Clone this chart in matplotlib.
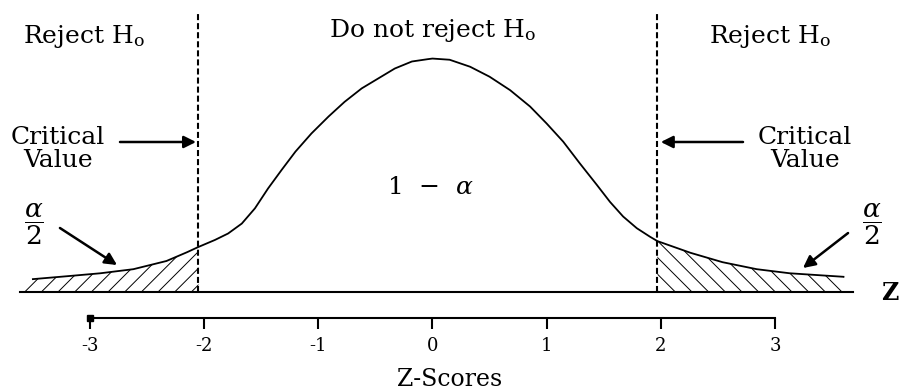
import numpy as np
import matplotlib.pyplot as plt

plt.rcParams['font.family'] = ['DejaVu Serif']
plt.rcParams['mathtext.fontset'] = 'dejavuserif'
plt.rcParams['hatch.linewidth'] = 0.7

# hand-drawn bell curve (z-score, height)
curve_z = [-3.50, -3.20, -2.91, -2.62, -2.33, -2.15, -2.05, -1.905, -1.79, -1.67,
           -1.555, -1.44, -1.32, -1.20, -1.06, -0.91, -0.77, -0.62, -0.475, -0.33,
           -0.18, -0.04, 0.00, 0.15, 0.33, 0.50, 0.68, 0.855, 1.00, 1.145, 1.29,
           1.44, 1.555, 1.67, 1.79, 1.905, 1.97, 2.26, 2.54, 2.84, 3.13, 3.60]
curve_h = [0.022, 0.027, 0.032, 0.039, 0.053, 0.068, 0.077, 0.089, 0.100, 0.117,
           0.143, 0.177, 0.209, 0.240, 0.271, 0.300, 0.325, 0.348, 0.365, 0.382,
           0.394, 0.398, 0.399, 0.397, 0.385, 0.368, 0.345, 0.317, 0.288, 0.257, 0.220,
           0.183, 0.154, 0.129, 0.109, 0.0945, 0.087, 0.067, 0.051, 0.039, 0.032, 0.026]

crit_left, crit_right = -2.05, 1.97
base_left, base_right = -3.61, 3.68
z_ticks = [-3, -2, -1, 0, 1, 2, 3]

curve_z = np.array(curve_z)
curve_h = np.array(curve_h)

fig = plt.figure(figsize=(9, 3.91), dpi=100)
ax = fig.add_axes([0, 0, 1, 1])
ax.set_xlim(-3.788, 4.095)
ax.set_ylim(-0.1692, 0.4991)

# curve and horizontal base line
ax.plot(curve_z, curve_h, color='black', lw=1.3, solid_joinstyle='round')
ax.plot([base_left, base_right], [0, 0], color='black', lw=1.5)

# shaded rejection tails
left = curve_z <= crit_left
ax.fill_between(np.r_[base_left, curve_z[left]], np.r_[0, curve_h[left]], 0,
                facecolor='none', edgecolor='black', hatch='//', lw=0)
right = curve_z >= crit_right
ax.fill_between(curve_z[right], curve_h[right], 0,
                facecolor='none', edgecolor='black', hatch='\\\\', lw=0)

# critical value lines
ax.vlines([crit_left, crit_right], 0, 0.4786, colors='black', lw=1.5,
          linestyles=(0, (2.9, 1.45)))

# z-score axis under the chart
for s in ['top', 'left', 'right']:
    ax.spines[s].set_visible(False)
ax.spines['bottom'].set_position(('data', -0.0444))
ax.spines['bottom'].set_bounds(z_ticks[0], z_ticks[-1])
ax.spines['bottom'].set_linewidth(1.5)
ax.set_yticks([])
ax.set_xticks(z_ticks)
ax.set_xticklabels([str(t) for t in z_ticks])
ax.tick_params(axis='x', direction='out', length=8, width=1.5, pad=6, labelsize=13)
ax.plot([z_ticks[0]], [-0.0444], marker='s', ms=4, color='black', clip_on=False)
ax.set_xlabel('Z-Scores', fontsize=17, labelpad=9)

# region labels
ax.text(-3.05, 0.426, r'Reject H$_{\rm o}$', fontsize=18, ha='center', va='baseline')
ax.text(0.0, 0.436, r'Do not reject H$_{\rm o}$', fontsize=18, ha='center', va='baseline')
ax.text(2.956, 0.426, r'Reject H$_{\rm o}$', fontsize=18, ha='center', va='baseline')

ax.text(-3.28, 0.244, 'Critical\nValue', fontsize=18, ha='center', va='center',
        linespacing=1.0)
ax.text(3.263, 0.244, 'Critical\nValue', fontsize=18, ha='center', va='center',
        linespacing=1.0)

arrow = dict(arrowstyle='-|>', mutation_scale=18, lw=1.8, color='black',
             shrinkA=0, shrinkB=0)
ax.annotate('', xy=(-2.071, 0.2564), xytext=(-2.737, 0.2564), arrowprops=arrow)
ax.annotate('', xy=(2.0, 0.2564), xytext=(2.72, 0.2564), arrowprops=arrow)

ax.text(-0.013, 0.178, r'1  $-$  $\alpha$', fontsize=18, ha='center', va='center')

ax.text(-3.49, 0.116, r'$\dfrac{\alpha}{2}$', fontsize=19, ha='center', va='center')
ax.text(3.851, 0.116, r'$\dfrac{\alpha}{2}$', fontsize=19, ha='center', va='center')
ax.annotate('', xy=(-2.763, 0.0461), xytext=(-3.263, 0.1094), arrowprops=arrow)
ax.annotate('', xy=(3.245, 0.041), xytext=(3.64, 0.1008), arrowprops=arrow)

ax.text(4.007, -0.0017, 'Z', fontsize=17, fontweight='bold', ha='center', va='center')

fig.savefig('out.png', dpi=100)
